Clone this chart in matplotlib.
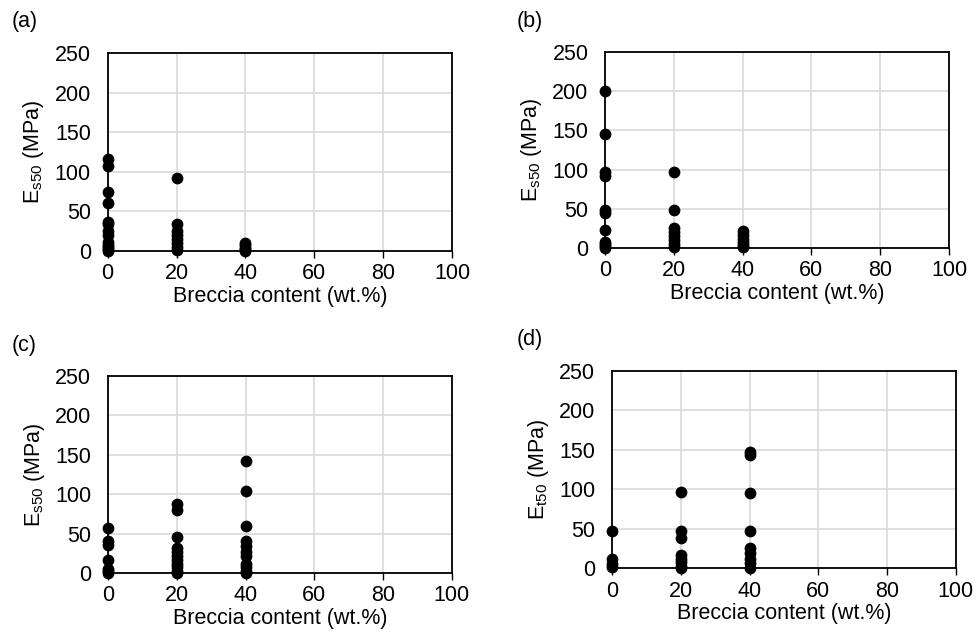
import matplotlib
matplotlib.use('Agg')
import matplotlib.pyplot as plt

FONT_SIZE = 15.5

# ---- data (breccia content wt.%, modulus MPa) ----
a_x = [0] * 13 + [20] * 8 + [40] * 5
a_y = [117, 108, 75, 61, 37, 34, 25, 20, 12, 8, 5, 2, 0,
       93, 34, 25, 20, 15, 10, 5, 1,
       10, 7, 4, 2, 0]

b_x = [0] * 11 + [20] * 8 + [40] * 6
b_y = [200, 146, 97, 92, 48, 45, 23, 8, 5, 2, 0,
       97, 49, 25, 20, 15, 10, 5, 1,
       22, 17, 12, 8, 4, 1]

c_x = [0] * 7 + [20] * 11 + [40] * 11
c_y = [57, 41, 36, 17, 5, 2, 0,
       88, 80, 46, 32, 27, 22, 17, 12, 7, 2, 0,
       142, 104, 60, 40, 34, 27, 22, 11, 7, 3, 0]

d_x = [0] * 4 + [20] * 8 + [40] * 9
d_y = [47, 11, 5, 1,
       97, 47, 38, 17, 12, 7, 3, 0,
       147, 144, 95, 47, 25, 19, 12, 6, 0]

X_TICKS = [0, 20, 40, 60, 80, 100]
Y_TICKS = [0, 50, 100, 150, 200, 250]
X_LABEL = 'Breccia content (wt.%)'

panels = [
    ('(a)', a_x, a_y, r'E$\mathregular{_{s50}}$ (MPa)', [0.1102, 0.6072, 0.3524, 0.3091], (12, 22)),
    ('(b)', b_x, b_y, r'E$\mathregular{_{s50}}$ (MPa)', [0.6193, 0.6119, 0.3520, 0.3067], (517, 21)),
    ('(c)', c_x, c_y, r'E$\mathregular{_{s50}}$ (MPa)', [0.1105, 0.1033, 0.3520, 0.3083], (12, 345)),
    ('(d)', d_x, d_y, r'E$\mathregular{_{t50}}$ (MPa)', [0.6264, 0.1111, 0.3520, 0.3083], (517, 339)),
]

plt.rcParams['font.family'] = ['Liberation Sans', 'DejaVu Sans']
plt.rcParams['mathtext.fontset'] = 'custom'
plt.rcParams['mathtext.rm'] = 'Liberation Sans'
plt.rcParams['font.size'] = FONT_SIZE

W, H = 977, 639
fig = plt.figure(figsize=(W / 100, H / 100), dpi=100)

for tag, xs, ys, ylab, rect, (tx, ty) in panels:
    ax = fig.add_axes(rect)
    ax.scatter(xs, ys, s=72, color='black', zorder=3, clip_on=False, linewidths=0)
    ax.set_xlim(0, 100)
    ax.set_ylim(0, 250)
    ax.set_xticks(X_TICKS)
    ax.set_yticks(Y_TICKS)
    ax.grid(True, color='#d9d9d9', lw=1.2, zorder=0)
    ax.set_axisbelow(True)
    for sp in ax.spines.values():
        sp.set_color('black')
        sp.set_linewidth(1.3)
    ax.tick_params(axis='x', direction='out', length=5, width=1.0, pad=4, labelsize=FONT_SIZE)
    ax.tick_params(axis='y', length=0, pad=12, labelsize=FONT_SIZE)
    ax.set_xlabel(X_LABEL, fontsize=FONT_SIZE, labelpad=1)
    ax.set_ylabel(ylab, fontsize=FONT_SIZE, labelpad=6)
    fig.text(tx / W, 1 - ty / H, tag, fontsize=FONT_SIZE, ha='left', va='center')

fig.savefig('out.png', dpi=100)
